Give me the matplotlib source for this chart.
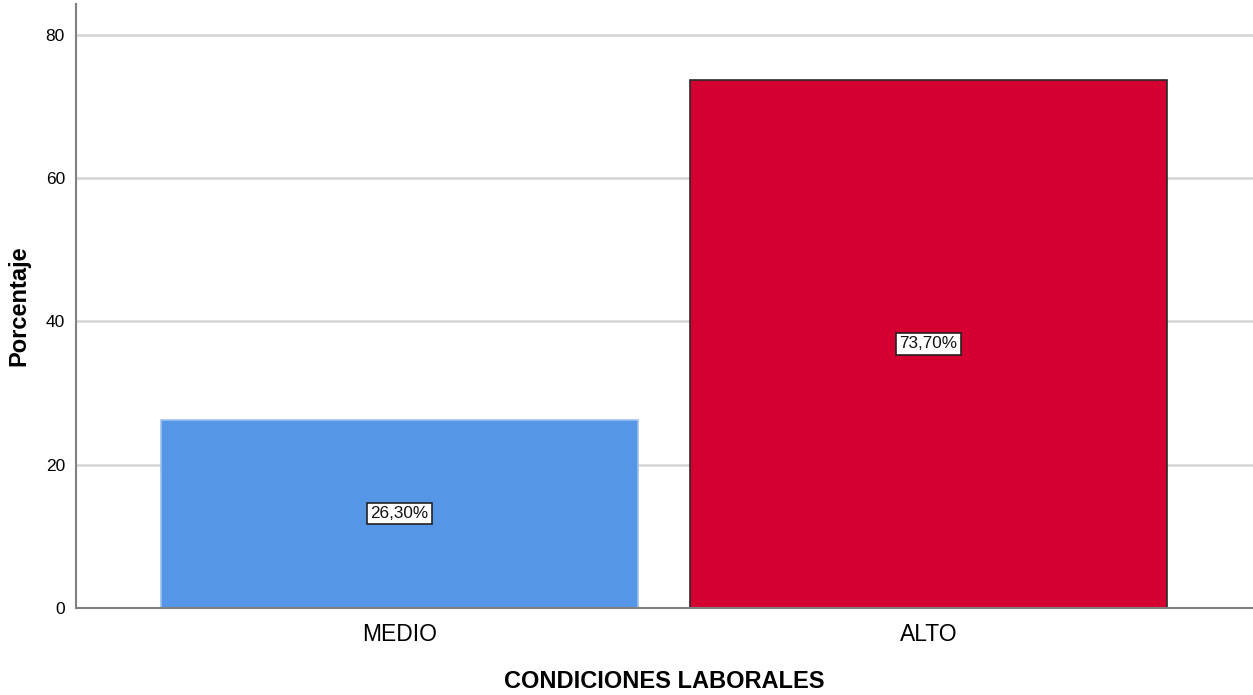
import matplotlib
matplotlib.use("Agg")
import matplotlib.pyplot as plt

categories = ["MEDIO", "ALTO"]
values = [26.3, 73.7]
labels = ["26,30%", "73,70%"]
colors = ["#5596E6", "#D50032"]
edgecolors = ["#9CC0EE", "#2a2a2a"]

plt.rcParams['font.family'] = ['Liberation Sans', 'DejaVu Sans']

fig = plt.figure(figsize=(12.53, 6.95), dpi=100)
ax = fig.add_axes([76/1253, 87/695, 1 - 76/1253, (608-4)/695])

x = list(range(len(categories)))
ax.set_axisbelow(True)
ax.yaxis.grid(True, color="#d4d4d4", linewidth=1.8)
bars = ax.bar(x, values, width=0.9, color=colors, edgecolor=edgecolors, linewidth=1.2, zorder=2)
for xi, v, lab in zip(x, values, labels):
    ax.text(xi, v/2, lab, ha="center", va="center", fontsize=12.3, color="#111111", zorder=3,
            bbox=dict(boxstyle="square,pad=0.18", facecolor="white", edgecolor="#222222", linewidth=1.2))

ax.set_xlim(-0.6115, 1.6134)
ax.set_ylim(0, 84.3)
ax.set_yticks([0, 20, 40, 60, 80])
ax.set_xticks(x)
ax.set_xticklabels(categories, fontsize=16.5)
ax.tick_params(axis="y", length=0, pad=8, labelsize=12.5)
ax.tick_params(axis="x", length=0, pad=11)
for s in ["top", "right"]:
    ax.spines[s].set_visible(False)
for s in ["left", "bottom"]:
    ax.spines[s].set_color("#808080")
    ax.spines[s].set_linewidth(1.5)

ax.set_xlabel("CONDICIONES LABORALES", fontsize=17, fontweight="bold", labelpad=17)
ax.set_ylabel("Porcentaje", fontsize=17, fontweight="bold", labelpad=11)

fig.savefig("out.png", dpi=100)
